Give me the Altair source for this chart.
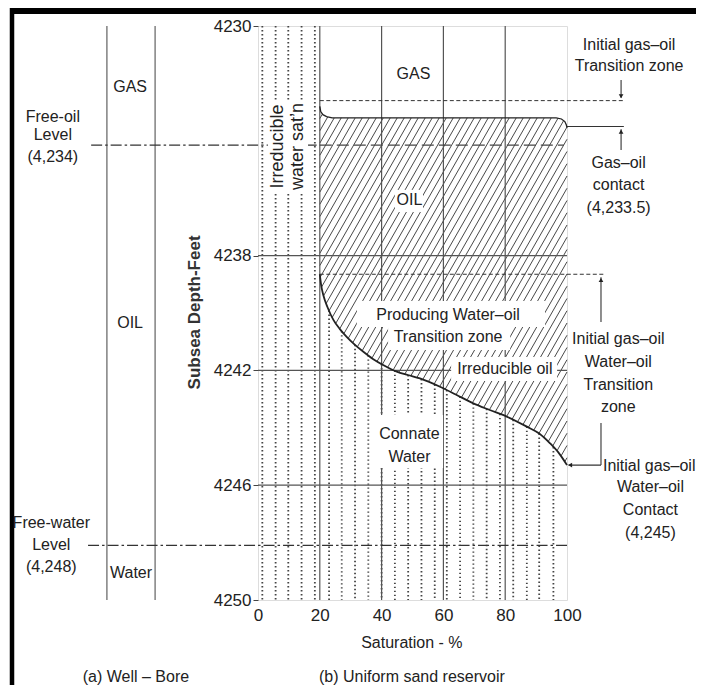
import altair as alt
import numpy as np
import pandas as pd

# ---------------- data ----------------
sat_ticks = [0, 20, 40, 60, 80, 100]
depth_ticks = [4230, 4238, 4242, 4246, 4250]
grid_sat = [20, 40, 60, 80]
grid_depth = [4238, 4242, 4246]

# water-oil transition curve (boundary between oil and water saturation)
curve_sat = [20.0, 20.4, 21.2, 22.5, 24.4, 26.5, 28.7, 31.3, 34.1, 37.2, 40.5, 44.9,
             48.5, 52.4, 58.9, 64.0, 69.7, 75.0, 80.5, 87.0, 91.0, 94.5, 97.5, 100.0]
curve_depth = [4238.65, 4239.0, 4239.4, 4239.8, 4240.24, 4240.56, 4240.83, 4241.1,
               4241.35, 4241.6, 4241.81, 4242.04, 4242.16, 4242.28, 4242.57, 4242.84,
               4243.15, 4243.38, 4243.61, 4243.96, 4244.2, 4244.54, 4244.9, 4245.3]

# top of the oil zone (gas-oil contact, rounded at both ends)
goc_sat = [20.0, 20.3, 21.0, 22.2, 24.0, 96.5, 98.2, 99.3, 99.8, 100.0]
goc_depth = [4232.8, 4232.98, 4233.09, 4233.16, 4233.2, 4233.2, 4233.24, 4233.33, 4233.45, 4233.55]

# dotted (water) lines
dot_sat = [1.4, 5.7, 9.8, 14.1, 18.4, 23.0, 27.1, 31.4, 35.7, 40.0, 44.3, 48.6, 52.9,
           57.2, 61.1, 65.4, 69.7, 74.0, 78.3, 82.6, 87.0, 91.0, 95.6]

well_x = [-48.9, -33.3]
free_oil_level = 4234.15
free_water_level = 4248.1
gas_oil_transition_top = 4232.6
gas_oil_contact = 4233.5
water_oil_transition_top = 4238.65
water_oil_contact = 4245.3

labels = [
    ("GAS", -41.4, 4232.13), ("OIL", -41.4, 4240.35), ("Water", -41.1, 4249.06),
    ("Free-oil", -66.4, 4233.16), ("Level", -66.4, 4233.80), ("(4,234)", -66.4, 4234.55),
    ("Free-water", -66.9, 4247.31), ("Level", -66.9, 4248.08), ("(4,248)", -66.9, 4248.84),
    ("GAS", 50.3, 4231.67), ("OIL", 49.0, 4236.06),
    ("Producing  Water–oil", 61.5, 4240.07), ("Transition zone", 61.5, 4240.84),
    ("Irreducible oil", 79.9, 4241.95),
    ("Connate", 49.0, 4244.22), ("Water", 49.0, 4245.0),
    ("Initial gas–oil", 120.1, 4230.66), ("Transition zone", 120.1, 4231.39),
    ("Gas–oil", 116.7, 4234.78), ("contact", 116.7, 4235.54), ("(4,233.5)", 116.7, 4236.35),
    ("Initial gas–oil", 116.6, 4240.92), ("Water–oil", 116.6, 4241.70),
    ("Transition", 116.6, 4242.51), ("zone", 116.6, 4243.27),
    ("Initial gas–oil", 126.6, 4245.33), ("Water–oil", 127.0, 4246.07),
    ("Contact", 127.0, 4246.86), ("(4,245)", 127.0, 4247.65),
    ("Saturation - %", 49.8, 4251.5),
    ("(a) Well – Bore", -39.5, 4252.68), ("(b) Uniform sand reservoir", 49.8, 4252.68),
]
rot_labels = [("Irreducible", 6.6, 4234.2), ("water sat’n", 13.0, 4234.2)]
ytitle = [("Subsea Depth-Feet", -20.4, 4239.98)]

# white boxes behind labels: x, x2, depth, depth2
boxes = [
    (3.2, 16.2, 4232.58, 4235.82),
    (44.3, 53.4, 4235.71, 4236.48),
    (32.0, 92.9, 4239.58, 4240.49),
    (42.1, 81.6, 4240.49, 4241.29),
    (62.5, 96.8, 4241.53, 4242.37),
    (38.5, 59.9, 4243.55, 4245.40),
]

# ---------------- layout ----------------
W, H = 309, 574
FONT = "Liberation Sans"
TXT = "#222222"
xs = alt.Scale(domain=[0, 100], nice=False, zero=False)
ys = alt.Scale(domain=[4230, 4250], nice=False, zero=False, reverse=True)
x_axis = alt.Axis(values=sat_ticks, title=None, ticks=False, domain=False, grid=False,
                  labelFontSize=17, labelFlush=False, labelPadding=7, labelColor=TXT,
                  labelFont=FONT)
y_axis = alt.Axis(values=depth_ticks, title=None, format="d", tickSize=5, domain=False,
                  grid=False, labelFontSize=17, labelPadding=2, labelColor=TXT,
                  tickColor="#444", labelFont=FONT)


def X(f="x"):
    return alt.X(f, type="quantitative", scale=xs, axis=x_axis)


def Y(f="y"):
    return alt.Y(f, type="quantitative", scale=ys, axis=y_axis)


# ---------------- hatch (derived from the boundaries) ----------------
def px_of(x):
    return np.asarray(x, dtype=float) / 100.0 * W


def py_of(d):
    return (np.asarray(d, dtype=float) - 4230.0) / 20.0 * H


slope, gap = 1.75, 7.0
lp, rp = float(px_of(20)), float(px_of(100))
tp, bp = float(py_of(min(goc_depth))), float(py_of(max(curve_depth)))
pxs = np.linspace(lp, rp, 1500)
xv = pxs / W * 100.0
top_b = np.interp(xv, goc_sat, goc_depth)
bot_b = np.interp(xv, curve_sat, curve_depth)
hatch = []
c = lp + tp / slope
while c <= rp + bp / slope:
    dv = 4230.0 + slope * (c - pxs) / H * 20.0
    ins = np.where((dv >= top_b) & (dv <= bot_b))[0]
    if len(ins) > 1:
        a, b = ins[0], ins[-1]
        hatch.append({"x": xv[a], "y": dv[a], "x2": xv[b], "y2": dv[b]})
    c += gap
hatch_df = pd.DataFrame(hatch)

dots_df = pd.DataFrame({
    "x": dot_sat,
    "y": [4230.0 if s < 20 else float(np.interp(s, curve_sat, curve_depth)) for s in dot_sat],
    "y2": [4250.0] * len(dot_sat),
})

one = pd.DataFrame({"a": [0]})


def seg(rows):
    return pd.DataFrame(rows, columns=["x", "x2", "y", "y2"])


layers = []
# outer frame
layers.append(alt.Chart(one).mark_rule(color="black", strokeWidth=4.5).encode(
    x=alt.value(-246), y=alt.value(-20), y2=alt.value(720)))
layers.append(alt.Chart(one).mark_rule(color="black", strokeWidth=6).encode(
    x=alt.value(-248), x2=alt.value(460), y=alt.value(-15)))

# dotted water lines
layers.append(alt.Chart(dots_df).mark_rule(color="#444", strokeWidth=1.8, strokeDash=[1.4, 2.6]).encode(
    x=X(), y=Y(), y2="y2"))
# hatch
layers.append(alt.Chart(hatch_df).mark_rule(color="#333", strokeWidth=0.9).encode(
    x=X(), y=Y(), x2="x2", y2="y2"))

# grid
gv = pd.DataFrame({"x": grid_sat, "y": [4230] * 4, "y2": [4250] * 4})
layers.append(alt.Chart(gv).mark_rule(color="#555", strokeWidth=1.2).encode(
    x=X(), y=Y(), y2="y2"))
gh = pd.DataFrame({"y": grid_depth, "x": [0] * 3, "x2": [100] * 3})
layers.append(alt.Chart(gh).mark_rule(color="#555", strokeWidth=1.2).encode(x=X(), x2="x2", y=Y()))

# well bore
wb = pd.DataFrame({"x": well_x, "y": [4230] * 2, "y2": [4250] * 2})
layers.append(alt.Chart(wb).mark_rule(color="#777", strokeWidth=1.4).encode(x=X(), y=Y(), y2="y2"))

# level lines
dashdot = seg([(-54.0, 20.0, free_oil_level, free_oil_level),
               (-55.0, 100.0, free_water_level, free_water_level)])
layers.append(alt.Chart(dashdot).mark_rule(color="#333", strokeWidth=1.2, strokeDash=[11, 3, 2.5, 3]).encode(
    x=X(), x2="x2", y=Y(), y2="y2"))
dashed = seg([(20.0, 99.0, free_oil_level, free_oil_level)])
layers.append(alt.Chart(dashed).mark_rule(color="#444", strokeWidth=1.2, strokeDash=[12, 5]).encode(
    x=X(), x2="x2", y=Y(), y2="y2"))
short = seg([(20.0, 118.4, gas_oil_transition_top, gas_oil_transition_top),
             (20.0, 112.3, water_oil_transition_top, water_oil_transition_top)])
layers.append(alt.Chart(short).mark_rule(color="#333", strokeWidth=1.0, strokeDash=[4, 2.5]).encode(
    x=X(), x2="x2", y=Y(), y2="y2"))
solid = seg([(100.0, 118.4, gas_oil_contact, gas_oil_contact),
             (117.5, 117.5, 4231.88, 4232.5),
             (117.5, 117.5, 4234.32, 4233.6),
             (111.0, 111.0, 4240.31, 4238.75),
             (111.0, 111.0, 4243.83, water_oil_contact),
             (100.5, 111.0, water_oil_contact, water_oil_contact)])
layers.append(alt.Chart(solid).mark_rule(color="#333", strokeWidth=1.1).encode(
    x=X(), x2="x2", y=Y(), y2="y2"))

# boundaries
goc_df = pd.DataFrame({"x": goc_sat, "y": goc_depth, "i": range(len(goc_sat))})
layers.append(alt.Chart(goc_df).mark_line(color="#222", strokeWidth=1.3).encode(
    x=X(), y=Y(), order="i:Q"))
cur_df = pd.DataFrame({"x": curve_sat, "y": curve_depth, "i": range(len(curve_sat))})
layers.append(alt.Chart(cur_df).mark_line(color="#222", strokeWidth=1.8, interpolate="monotone").encode(
    x=X(), y=Y(), order="i:Q"))

# white boxes
box_df = pd.DataFrame(boxes, columns=["x", "x2", "y", "y2"])
layers.append(alt.Chart(box_df).mark_rect(fill="white").encode(
    x=X(), x2="x2", y=Y(), y2="y2"))

# text
lab_df = pd.DataFrame(labels, columns=["t", "x", "y"])
layers.append(alt.Chart(lab_df).mark_text(font=FONT, fontSize=16, color=TXT, baseline="middle",
                                          align="center").encode(x=X(), y=Y(), text="t:N"))
rot_df = pd.DataFrame(rot_labels, columns=["t", "x", "y"])
layers.append(alt.Chart(rot_df).mark_text(font=FONT, fontSize=18, color=TXT, baseline="middle",
                                          align="center", angle=270).encode(x=X(), y=Y(), text="t:N"))
yt_df = pd.DataFrame(ytitle, columns=["t", "x", "y"])
layers.append(alt.Chart(yt_df).mark_text(font=FONT, fontSize=17, fontWeight="bold", color="#333",
                                         baseline="middle", align="center", angle=270).encode(
    x=X(), y=Y(), text="t:N"))

# arrow heads
heads = pd.DataFrame({"x": [117.5, 117.5, 111.0, 101.0],
                      "y": [4232.45, 4233.68, 4238.85, water_oil_contact],
                      "s": ["triangle-down", "triangle-up", "triangle-up", "triangle-left"]})
layers.append(alt.Chart(heads).mark_point(filled=True, color="#222", size=22, opacity=1).encode(
    x=X(), y=Y(), shape=alt.Shape("s:N", scale=None)))

chart = alt.layer(*layers).properties(
    width=W, height=H,
    autosize=alt.AutoSizeParams(type="none"),
    padding={"left": 250, "top": 18, "right": 129, "bottom": 85},
    background="white",
).configure_view(stroke="#555", strokeWidth=1.3).configure(font=FONT)

chart.save("out.html", embed_options={"renderer": "svg", "actions": False})
